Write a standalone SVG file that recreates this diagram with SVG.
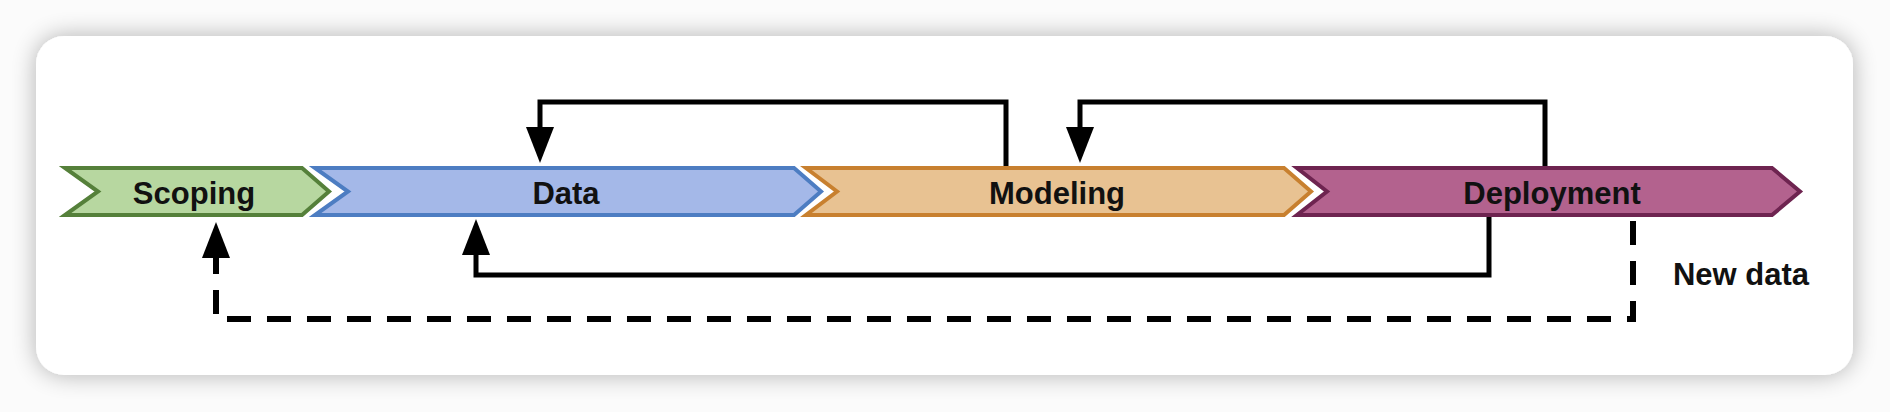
<svg xmlns="http://www.w3.org/2000/svg" width="1890" height="412" viewBox="0 0 1890 412">
  <style>
    .label { font-family: "Liberation Sans", Arial, sans-serif; font-weight: bold; font-size: 31px; fill: #111; text-anchor: middle; }
    .chev { stroke-width: 4; stroke-linejoin: miter; }
    .conn { fill: none; stroke: #000; stroke-width: 5; stroke-linejoin: miter; }
    .dashed { stroke-width: 6; stroke-dasharray: 24 16; }
  </style>
  <defs>
    <filter id="shadow" x="-5%" y="-20%" width="110%" height="140%">
      <feGaussianBlur in="SourceAlpha" stdDeviation="12"/>
      <feComponentTransfer><feFuncA type="linear" slope="0.3"/></feComponentTransfer>
      <feMerge><feMergeNode/><feMergeNode in="SourceGraphic"/></feMerge>
    </filter>
    <marker id="arrow" markerUnits="userSpaceOnUse" markerWidth="36" markerHeight="28" refX="0" refY="14" orient="auto" viewBox="0 0 36 28">
      <path d="M0,0 L36,14 L0,28 Z" fill="#000"/>
    </marker>
  </defs>

  <rect x="0" y="0" width="1890" height="412" fill="#fbfbfb"/>
  <rect x="36" y="36" width="1817" height="339" rx="28" fill="#ffffff" filter="url(#shadow)"/>

  <g id="scoping">
    <polygon class="chev" points="65,168 302,168 329,191.5 302,215 65,215 98,191.5" fill="#b7d7a0" stroke="#55803a"/>
    <text class="label" x="194" y="204">Scoping</text>
  </g>
  <g id="data">
    <polygon class="chev" points="315,168 794,168 821,191.5 794,215 315,215 348,191.5" fill="#a4b8e8" stroke="#4d7dc2"/>
    <text class="label" x="566" y="204">Data</text>
  </g>
  <g id="modeling">
    <polygon class="chev" points="806,168 1284,168 1311,191.5 1284,215 806,215 837,191.5" fill="#e8c292" stroke="#c8802f"/>
    <text class="label" x="1057" y="204">Modeling</text>
  </g>
  <g id="deployment">
    <polygon class="chev" points="1297,168 1772,168 1800,191.5 1772,215 1297,215 1327,191.5" fill="#b3628e" stroke="#6e2450"/>
    <text class="label" x="1552" y="204">Deployment</text>
  </g>

  <g id="connectors">
    <path class="conn" d="M1006,166 V102 H540 V127" marker-end="url(#arrow)"/>
    <path class="conn" d="M1545,166 V102 H1080 V127" marker-end="url(#arrow)"/>
    <path class="conn" d="M1489,217 V275 H476 V255" marker-end="url(#arrow)"/>
    <path class="conn dashed" d="M1633,221 V319 H216 V258" marker-end="url(#arrow)"/>
  </g>

  <g id="new-data-label">
    <text class="label" x="1741" y="285">New data</text>
  </g>
</svg>
